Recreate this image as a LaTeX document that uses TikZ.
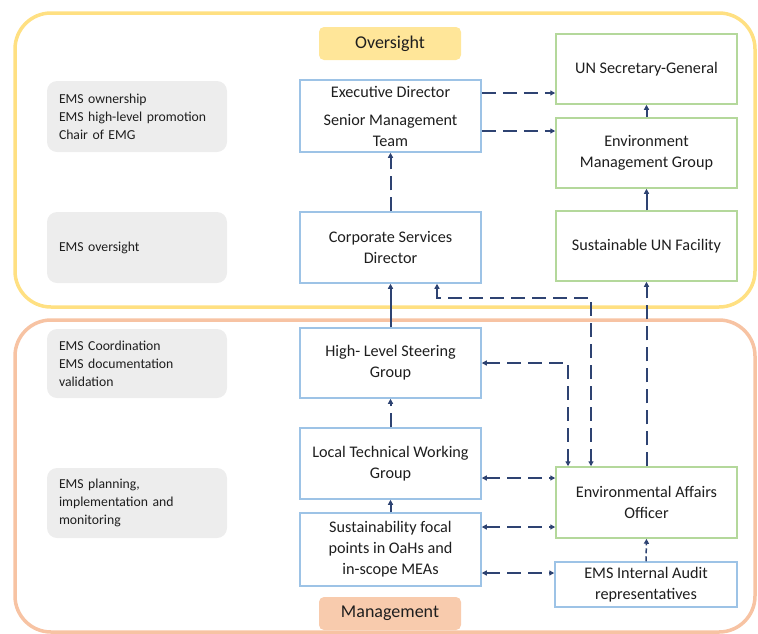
\documentclass[tikz,border=0pt]{standalone}
\usepackage{fontspec}
\setmainfont{Carlito}
\usetikzlibrary{arrows.meta}
\definecolor{yframe}{HTML}{FFE082}
\definecolor{oframe}{HTML}{F7C3A3}
\definecolor{ylabel}{HTML}{FFE699}
\definecolor{olabel}{HTML}{F8CBAD}
\definecolor{blueb}{HTML}{9DC3E6}
\definecolor{greenb}{HTML}{B4D89B}
\definecolor{grayfill}{HTML}{EDEDED}
\definecolor{navy}{HTML}{2E4372}
\definecolor{txt}{HTML}{1E1E1E}
\tikzset{
  frame/.style={line width=3.5pt, rounded corners=36pt},
  lbl/.style={rounded corners=5pt, minimum width=142pt, minimum height=33pt, inner sep=0pt, text=txt, font=\fontsize{18}{20}\selectfont},
  gbox/.style={fill=grayfill, rounded corners=10pt, minimum width=180pt, inner sep=0pt, text width=156pt, align=left, text=txt, font=\fontsize{13.7}{18}\selectfont},
  bbox/.style={draw=blueb, line width=1.5pt, fill=white, minimum width=181pt, inner sep=0pt, align=center, text=txt, font=\fontsize{16.2}{21}\selectfont},
  grbox/.style={bbox, draw=greenb},
  tip/.tip={Triangle[length=5pt,width=5pt]},
  arr/.style={draw=navy, line width=2pt, -tip},
  barr/.style={draw=navy, line width=2pt, tip-tip},
  dsh/.style={dash pattern=on 14pt off 7pt},
}
\begin{document}
\begin{tikzpicture}[x=1pt,y=-1pt]
\useasboundingbox (0,0) rectangle (758,633);
% frames
\draw[frame, draw=yframe] (15,13) rectangle (755,307);
\draw[frame, draw=oframe] (15,320) rectangle (755,632);
\node[lbl, fill=ylabel] (over) at (390,43.5) {Oversight};
\node[lbl, fill=olabel] (mgmt) at (390,613.5) {Management};
% left descriptions
\node[gbox, minimum height=71pt] (g1) at (137,116.5) {EMS ownership\\EMS high-level promotion\\Chair of EMG};
\node[gbox, minimum height=71pt] (g2) at (137,247.5) {EMS oversight};
\node[gbox, minimum height=69pt] (g3) at (137,363.5) {EMS Coordination\\EMS documentation\\validation};
\node[gbox, minimum height=70pt] (g4) at (137,503) {EMS planning,\\implementation and\\monitoring};
% middle column
\node[bbox, minimum height=72pt] (ed) at (390.5,116) {Executive Director\\[7pt]Senior Management\\Team};
\node[bbox, minimum height=71pt] (csd) at (390.5,247.5) {Corporate Services\\Director};
\node[bbox, minimum height=70pt] (hlsg) at (390.5,363) {High- Level Steering\\Group};
\node[bbox, minimum height=71pt] (ltwg) at (390.5,463.5) {Local Technical Working\\Group};
\node[bbox, minimum height=73pt] (sfp) at (390.5,549.5) {Sustainability focal\\points in OaHs and\\in-scope MEAs};
% right column
\node[grbox, minimum height=70pt] (sg) at (646.5,69) {UN Secretary-General};
\node[grbox, minimum height=70pt] (emg) at (646.5,153) {Environment\\Management Group};
\node[grbox, minimum height=70pt] (suf) at (646.5,246) {Sustainable UN Facility};
\node[grbox, minimum height=71pt] (eao) at (646.5,502.5) {Environmental Affairs\\Officer};
\node[bbox, minimum height=45pt, minimum width=182pt] (audit) at (646,584.5) {EMS Internal Audit\\representatives};
% connectors
\draw[arr, dsh] (ed.east |- 0,93) -- (sg.west |- 0,93);
\draw[arr, dsh] (ed.east |- 0,131) -- (emg.west |- 0,131);
\draw[arr] (emg.north) -- (sg.south);
\draw[arr] (suf.north) -- (emg.south);
\draw[arr, dsh] (csd.north) -- (ed.south);
\draw[arr] (hlsg.north) -- (csd.south);
\draw[arr, dsh] (ltwg.north) -- (hlsg.south);
\draw[arr] (sfp.north) -- (ltwg.south);
\draw[arr, dsh] (eao.north) -- (suf.south);
\draw[barr, dsh] (csd.south -| 437,0) -- (437,298) -- (591,298) -- (eao.north -| 591,0);
\draw[barr, dsh] (hlsg.east |- 0,363) -- (568,363) -- (eao.north -| 568,0);
\draw[barr, dsh] (ltwg.east |- 0,478) -- (eao.west |- 0,478);
\draw[barr, dsh] (sfp.east |- 0,527) -- (eao.west |- 0,527);
\draw[barr, dsh] (sfp.east |- 0,573) -- (audit.west |- 0,573);
\draw[arr, line width=1.5pt, dash pattern=on 5pt off 3pt] (audit.north) -- (eao.south);
\end{tikzpicture}
\end{document}
